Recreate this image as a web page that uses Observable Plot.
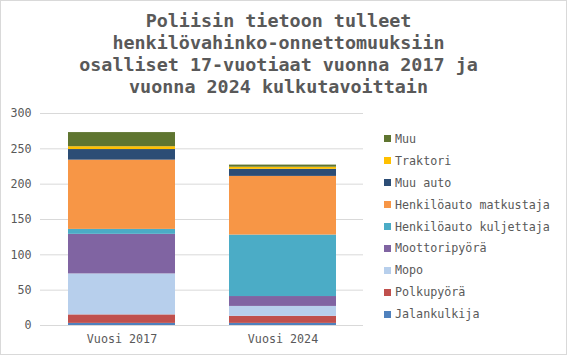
<!DOCTYPE html>
<html>
<head>
<meta charset="utf-8">
<script src="https://cdn.jsdelivr.net/npm/d3@7"></script>
<script src="https://cdn.jsdelivr.net/npm/@observablehq/plot@0.6"></script>
<style>
  html, body { margin: 0; padding: 0; background: #fff; }
  #wrap {
    position: relative; width: 567px; height: 355px; box-sizing: border-box;
    border: 1px solid #d9d9d9; background: #fff; overflow: hidden;
    font-family: "DejaVu Sans Mono", monospace; color: #595959;
  }
  #title {
    position: absolute; left: 0; top: 9px; width: 555px; text-align: center;
    font-weight: bold; font-size: 18.4px; line-height: 22px; color: #595959;
    white-space: pre;
  }
  #chart { position: absolute; left: -1px; top: 99px; }
  #legend { position: absolute; left: 383px; top: 127px; font-size: 11.7px; }
  .item { height: 21.9px; display: flex; align-items: center; white-space: pre; }
  .sw { width: 7px; height: 7px; margin-right: 4px; flex: none; }
</style>
</head>
<body>
<div id="wrap">
  <div id="title"></div>
  <div id="chart"></div>
  <div id="legend"></div>
</div>
<script>
const titleLines = ["Poliisin tietoon tulleet", "henkilövahinko-onnettomuuksiin", "osalliset 17-vuotiaat vuonna 2017 ja", "vuonna 2024 kulkutavoittain"];
const years = ["Vuosi 2017", "Vuosi 2024"];
const series = ["Jalankulkija", "Polkupyörä", "Mopo", "Moottoripyörä", "Henkilöauto kuljettaja", "Henkilöauto matkustaja", "Muu auto", "Traktori", "Muu"];
const colors = ["#4f81bd", "#c0504d", "#b7cfec", "#8064a2", "#4bacc6", "#f79646", "#2c4d75", "#ffc000", "#5f7530"];
const v2017 = [3, 12, 58, 56, 7, 98, 15, 4, 20];
const v2024 = [3, 10, 14, 14, 87, 83, 10, 3, 3];
const yTicks = [0, 50, 100, 150, 200, 250, 300];

document.getElementById("title").textContent = titleLines.join("\n");

const data = [];
series.forEach((s, i) => {
  data.push({year: years[0], series: s, value: v2017[i]});
  data.push({year: years[1], series: s, value: v2024[i]});
});

const chart = Plot.plot({
  width: 370,
  height: 246,
  marginLeft: 40,
  marginRight: 7,
  marginTop: 13,
  marginBottom: 21,
  style: {fontFamily: "DejaVu Sans Mono, monospace", fontSize: "11.7px", color: "#595959", background: "transparent"},
  x: {domain: years, paddingInner: 0.337, paddingOuter: 0.17, label: null},
  y: {domain: [0, 300], label: null},
  color: {domain: series, range: colors},
  marks: [
    Plot.gridY(yTicks, {stroke: "#d9d9d9", strokeOpacity: 1, strokeWidth: 1}),
    Plot.barY(data, {x: "year", y: "value", fill: "series", order: series}),
    Plot.axisY(yTicks, {tickSize: 0, tickPadding: 9, label: null, fill: "#595959"}),
    Plot.axisX({tickSize: 0, tickPadding: 9, label: null, fill: "#595959"})
  ]
});
document.getElementById("chart").appendChild(chart);

const legend = document.getElementById("legend");
series.slice().reverse().forEach((s) => {
  const i = series.indexOf(s);
  const row = document.createElement("div");
  row.className = "item";
  const sw = document.createElement("span");
  sw.className = "sw";
  sw.style.background = colors[i];
  const t = document.createElement("span");
  t.textContent = s;
  row.appendChild(sw);
  row.appendChild(t);
  legend.appendChild(row);
});
</script>
</body>
</html>
